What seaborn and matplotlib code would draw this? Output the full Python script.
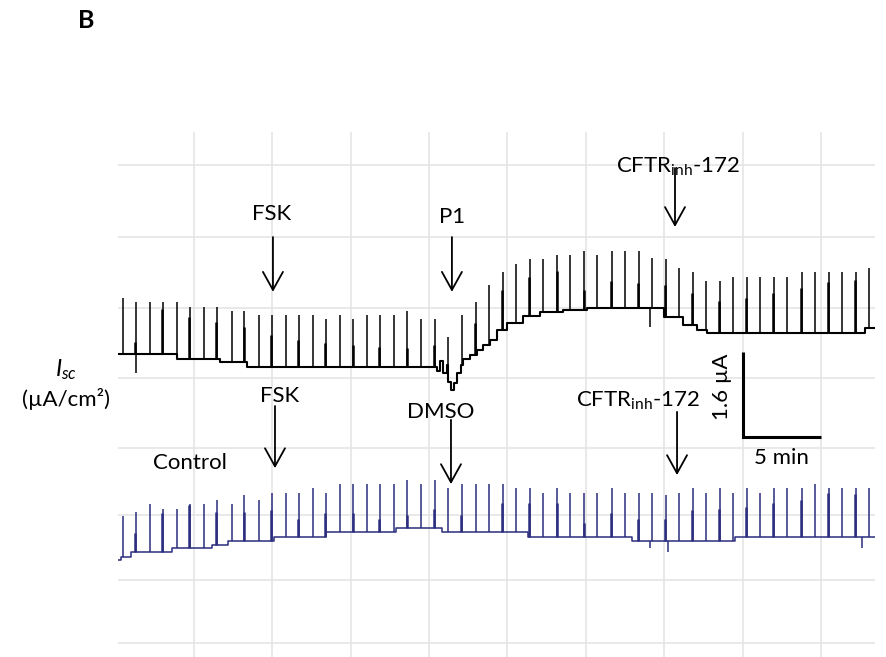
import numpy as np
import pandas as pd
import seaborn as sns
import matplotlib.pyplot as plt

# pulse times (min), same for both chambers
pulse_t = [0.49, 1.34, 2.23, 3.04, 3.97, 4.78, 5.69, 6.50, 7.43, 8.24,
           9.15, 9.98, 10.87, 11.72, 12.59, 13.44, 14.33, 15.18, 16.05, 16.88,
           17.77, 18.62, 19.49, 20.38, 21.24, 22.10, 22.98, 23.82, 24.69, 25.54,
           26.43, 27.28, 28.18, 29.01, 29.90, 30.73, 31.64, 32.48, 33.36, 34.20,
           35.10, 35.92, 36.82, 37.64, 38.54, 39.38, 40.26, 41.10, 41.97, 42.83,
           43.74, 44.59, 45.46, 46.31, 47.20, 48.04]

nan = np.nan

# P1 trace (uA, relative to start)
p1_base_t = [0.19, 3.95, 6.69, 8.41, 20.49, 20.70, 20.91, 21.13, 21.23, 21.38,
             21.59, 21.80, 22.02, 22.18, 22.61, 23.04, 23.46, 23.89, 24.32, 24.96,
             26.00, 27.08, 28.55, 30.08, 35.00, 36.19, 37.08, 37.72, 47.80, 48.41]
p1_base_i = [0.00, -0.09, -0.16, -0.25, -0.33, -0.13, -0.36, -0.21, -0.52, -0.68,
             -0.55, -0.36, -0.21, -0.09, -0.02, 0.08, 0.17, 0.26, 0.45, 0.58,
             0.72, 0.79, 0.83, 0.87, 0.70, 0.55, 0.45, 0.40, 0.49, 0.49]
p1_spike = [1.05, 0.97, 0.97, 0.97, 0.97, 0.89, 0.89, 0.89, 0.81, 0.81,
            0.73, 0.73, 0.73, 0.73, 0.73, 0.65, 0.73, 0.65, 0.73, 0.73,
            0.73, 0.81, 0.65, 0.65, 0.32, 0.73, 0.98, 1.30, 1.54, 1.69,
            1.79, 1.79, 1.86, 1.86, 1.94, 1.86, 1.94, 1.94, 1.94, 1.81,
            1.79, 1.62, 1.54, 1.37, 1.37, 1.45, 1.45, 1.45, 1.45, 1.45,
            1.54, 1.54, 1.54, 1.54, 1.54, 1.62]
p1_spike2 = [nan, 0.23, nan, 0.85, nan, 0.70, nan, 0.61, nan, 0.51,
             nan, 0.36, nan, 0.26, nan, 0.21, nan, 0.17, nan, 0.14,
             nan, 0.11, nan, 0.17, nan, nan, 0.58, nan, 1.20, nan,
             1.45, nan, 1.56, nan, 1.20, nan, 1.37, nan, 1.34, nan,
             1.30, nan, 1.15, nan, 1.00, nan, 1.05, nan, 1.15, nan,
             1.24, nan, 1.36, nan, 1.39, nan]
p1_dip_t = [1.34, 34.08]
p1_dip_i = [-0.36, 0.51]

# control (DMSO) trace
ctrl_base_t = [0.19, 0.36, 1.04, 3.64, 6.20, 7.20, 10.10, 13.46, 17.90, 20.80,
               26.30, 32.90, 39.50, 48.41]
ctrl_base_i = [0.00, 0.05, 0.16, 0.22, 0.28, 0.36, 0.44, 0.53, 0.61, 0.53,
               0.44, 0.36, 0.44, 0.44]
ctrl_spike = [0.83, 0.91, 1.05, 0.97, 0.97, 1.05, 1.05, 1.13, 1.05, 1.22,
              1.13, 1.27, 1.27, 1.27, 1.35, 1.27, 1.43, 1.43, 1.43, 1.43,
              1.43, 1.51, 1.43, 1.51, 1.35, 1.43, 1.43, 1.43, 1.43, 1.35,
              1.35, 1.27, 1.35, 1.27, 1.27, 1.27, 1.35, 1.27, 1.27, 1.27,
              1.22, 1.27, 1.35, 1.27, 1.35, 1.27, 1.35, 1.27, 1.35, 1.35,
              1.35, 1.43, 1.35, 1.35, 1.35, 1.35]
ctrl_spike2 = [nan, 0.51, nan, 0.88, nan, 1.04, nan, 0.90, nan, 0.90,
               nan, 0.94, nan, 0.77, nan, 0.88, nan, 0.88, nan, 0.77,
               nan, 0.85, nan, 0.96, nan, 0.85, nan, nan, 1.07, nan,
               1.07, nan, 1.07, nan, 0.70, nan, 0.88, nan, 0.77, nan,
               0.77, nan, 0.94, nan, 0.96, nan, 1.00, nan, 1.07, nan,
               1.13, nan, 1.26, nan, 1.24, nan]
ctrl_dip_t = [34.08, 35.25, 47.60]
ctrl_dip_i = [0.23, 0.16, 0.23]

# additions (min)
p1_events = ["FSK", "P1", "CFTR$_{\\mathrm{inh}}$-172"]
p1_event_t = [10.06, 21.46, 35.67]
ctrl_events = ["FSK", "DMSO", "CFTR$_{\\mathrm{inh}}$-172"]
ctrl_event_t = [10.19, 21.40, 35.80]

P1_OFFSET = 1.77
CTRL_OFFSET = -2.11
NAVY = "#2b2e7e"

sns.set_style("white")
plt.rcParams["font.family"] = ["Lato", "DejaVu Sans"]
plt.rcParams["text.color"] = "black"
plt.rcParams["mathtext.fontset"] = "custom"
plt.rcParams["mathtext.rm"] = "Lato"
plt.rcParams["mathtext.it"] = "Lato:italic"
FS = 16


def draw_trace(ax, base_t, base_i, spike, spike2, dip_t, dip_i, offset, color, lw):
    base_t = np.array(base_t)
    base_i = np.array(base_i) + offset
    df = pd.DataFrame({"t": base_t, "i": base_i})
    sns.lineplot(data=df, x="t", y="i", drawstyle="steps-post", color=color,
                 lw=lw, estimator=None, sort=False, ax=ax)
    pt = np.array(pulse_t)
    lev = base_i[np.searchsorted(base_t, pt, side="right") - 1]
    ax.vlines(pt, lev, np.array(spike) + offset, color=color, lw=1.1)
    s2 = np.array(spike2) + offset
    ok = ~np.isnan(s2)
    ax.vlines(pt[ok] - 0.04, lev[ok], s2[ok], color=color, lw=1.8)
    dt = np.array(dip_t)
    dl = base_i[np.searchsorted(base_t, dt, side="right") - 1]
    ax.vlines(dt, dl, np.array(dip_i) + offset, color=color, lw=1.1)


fig = plt.figure(figsize=(8.86, 6.57), dpi=100)
ax = fig.add_axes([118 / 886, 0, 757 / 886, 525 / 657])

draw_trace(ax, p1_base_t, p1_base_i, p1_spike, p1_spike2, p1_dip_t, p1_dip_i,
           P1_OFFSET, "black", 1.5)
draw_trace(ax, ctrl_base_t, ctrl_base_i, ctrl_spike, ctrl_spike2, ctrl_dip_t,
           ctrl_dip_i, CTRL_OFFSET, NAVY, 1.1)

ax.set_xlim(0.19, 48.41)
ax.set_ylim(-3.934, 5.948)
ax.set_xticks([5, 10, 15, 20, 25, 30, 35, 40, 45])
ax.set_yticks([5.327, 3.972, 2.635, 1.318, 0, -1.261, -2.485, -3.671])
ax.grid(True, color="#e3e3e3", lw=1.1)
ax.tick_params(length=0, labelleft=False, labelbottom=False)
ax.set_xlabel("")
ax.set_ylabel("")
sns.despine(ax=ax, left=True, bottom=True)

arrow = dict(arrowstyle="->,head_length=0.65,head_width=0.36", color="black",
             lw=1.3, mutation_scale=20, shrinkA=0, shrinkB=0)

# P1 additions
lab_xy = [(10.0, 4.40), (21.46, 4.35), (35.86, 5.18)]
arr_y = [(3.97, 2.94), (3.97, 2.94), (5.27, 4.16)]
for name, t, (lx, ly), (y0, y1) in zip(p1_events, p1_event_t, lab_xy, arr_y):
    va = "baseline" if "CFTR" in name else "center"
    ax.text(lx, ly, name, ha="center", va=va, fontsize=FS)
    ax.annotate("", xy=(t, y1), xytext=(t, y0), arrowprops=arrow)

# control additions
lab_xy = [(10.51, 0.98), (20.76, 0.68), (33.31, 0.77)]
arr_y = [(0.79, -0.38), (0.53, -0.68), (0.68, -0.51)]
for name, t, (lx, ly), (y0, y1) in zip(ctrl_events, ctrl_event_t, lab_xy, arr_y):
    va = "baseline" if "CFTR" in name else "center"
    ax.text(lx, ly, name, ha="center", va=va, fontsize=FS)
    ax.annotate("", xy=(t, y1), xytext=(t, y0), arrowprops=arrow)

ax.text(4.78, -0.28, "Control", ha="center", va="center", fontsize=FS)

# scale bar: 1.6 uA x 5 min
ax.plot([40, 40, 45], [0.21 + 1.6, 0.21, 0.21], color="black", lw=2.2,
        solid_capstyle="butt", solid_joinstyle="miter")
ax.text(38.67, 1.15, "1.6 µA", rotation=90, ha="center", va="center", fontsize=FS)
ax.text(42.48, -0.19, "5 min", ha="center", va="center", fontsize=FS)

fig.text(86 / 886, 1 - 20 / 657, "B", ha="center", va="center", fontsize=18,
         fontweight="bold")
fig.text(66 / 886, 1 - 370 / 657, "$I_{sc}$", ha="center", va="center", fontsize=17)
fig.text(66 / 886, 1 - 399 / 657, "(µA/cm²)", ha="center", va="center", fontsize=FS)

fig.savefig("out.png", dpi=100)
